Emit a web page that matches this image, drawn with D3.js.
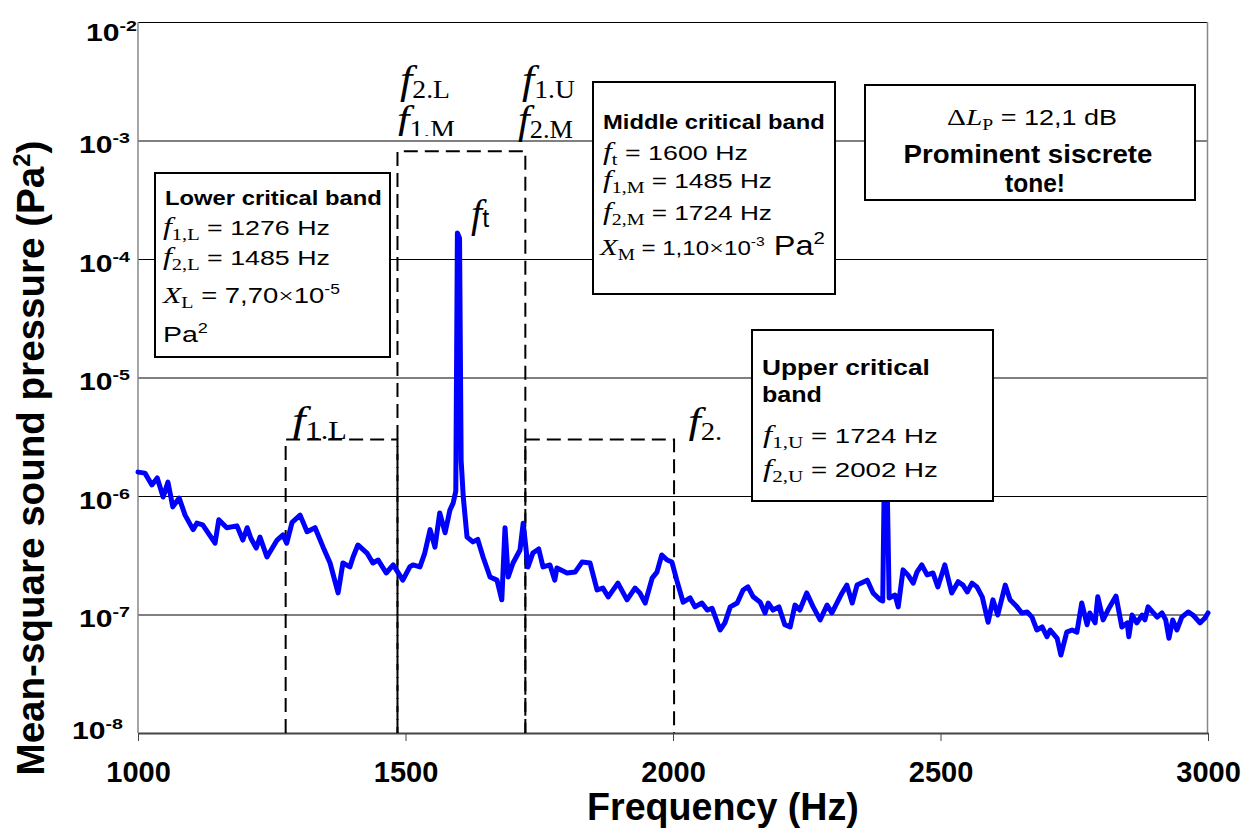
<!DOCTYPE html>
<html>
<head>
<meta charset="utf-8">
<script src="https://cdn.jsdelivr.net/npm/d3@7"></script>
<style>
  body { margin: 0; background: #fff; }
  svg { display: block; }
</style>
</head>
<body>
<svg id="chart" width="1245" height="828"></svg>
<script>
// spectrum (Hz / Pa^2)
const freq = [1000,1013,1026,1036,1047,1056,1065,1077,1088,1103,1110,1121,1144,1151,1166,1185,1196,1204,1211,1221,1228,1241,1260,1271,1278,1288,1303,1316,1331,1346,1359,1374,1383,1396,1402,1411,1428,1439,1449,1464,1477,1495,1508,1514,1527,1536,1546,1555,1564,1574,1583,1589,1594,1597,1601,1604,1608,1615,1626,1635,1645,1658,1671,1680,1686,1692,1701,1714,1720,1729,1738,1749,1757,1770,1779,1783,1802,1817,1830,1845,1858,1869,1879,1897,1914,1929,1938,1948,1961,1970,1979,1989,1998,2007,2019,2032,2041,2054,2064,2073,2088,2097,2107,2120,2131,2140,2150,2163,2172,2178,2187,2198,2209,2219,2228,2237,2250,2262,2275,2288,2297,2316,2325,2335,2344,2363,2374,2387,2392,2395,2400,2404,2415,2421,2430,2439,2449,2456,2465,2475,2486,2495,2508,2521,2533,2542,2550,2559,2568,2578,2589,2598,2607,2621,2630,2643,2652,2662,2671,2680,2690,2699,2705,2718,2725,2736,2746,2755,2764,2774,2779,2789,2794,2804,2813,2828,2839,2849,2852,2858,2867,2877,2882,2888,2905,2914,2921,2927,2934,2942,2951,2963,2972,2985,2994,3000];
const msp = [1.59e-6,1.56e-6,1.24e-6,1.42e-6,9.8e-7,1.31e-6,8.1e-7,9.6e-7,6.9e-7,5.2e-7,5.9e-7,5.7e-7,4.0e-7,6.3e-7,5.4e-7,5.6e-7,4.25e-7,5.4e-7,4.4e-7,3.64e-7,4.5e-7,3.06e-7,4.25e-7,4.7e-7,4.0e-7,6.0e-7,6.9e-7,5.0e-7,5.4e-7,3.7e-7,2.72e-7,1.52e-7,2.72e-7,2.52e-7,3.06e-7,3.86e-7,3.3e-7,2.72e-7,2.88e-7,2.24e-7,2.62e-7,1.95e-7,2.52e-7,2.62e-7,2.52e-7,3.3e-7,5.2e-7,3.7e-7,7.2e-7,4.9e-7,7.6e-7,8.7e-7,1.1e-6,1.66e-4,1.5e-4,2.0e-6,9.8e-7,4.5e-7,4.1e-7,4.3e-7,3.06e-7,2.07e-7,1.95e-7,1.33e-7,5.4e-7,2.07e-7,2.72e-7,3.5e-7,5.9e-7,2.52e-7,3.3e-7,3.57e-7,2.52e-7,2.62e-7,1.95e-7,2.47e-7,2.24e-7,2.28e-7,2.77e-7,2.72e-7,1.61e-7,1.67e-7,1.41e-7,1.84e-7,1.33e-7,1.67e-7,1.52e-7,1.25e-7,2.03e-7,2.28e-7,3.18e-7,2.88e-7,2.77e-7,1.95e-7,1.27e-7,1.38e-7,1.16e-7,1.25e-7,1.09e-7,1.13e-7,7.4e-8,8.5e-8,1.16e-7,1.25e-7,1.61e-7,1.71e-7,1.41e-7,1.27e-7,1.03e-7,1.25e-7,1.09e-7,1.16e-7,8.2e-8,7.85e-8,1.2e-7,1.09e-7,1.52e-7,1.16e-7,9.0e-8,1.2e-7,1.03e-7,1.52e-7,1.77e-7,1.25e-7,1.77e-7,1.95e-7,1.52e-7,1.33e-7,1.3e-7,1.5e-6,1.5e-6,1.38e-7,1.46e-7,1.16e-7,2.38e-7,2.16e-7,1.84e-7,2.28e-7,2.62e-7,2.16e-7,2.24e-7,1.71e-7,2.62e-7,1.52e-7,1.89e-7,1.77e-7,1.55e-7,1.84e-7,1.71e-7,1.41e-7,8.6e-8,1.33e-7,9.9e-8,1.77e-7,1.33e-7,1.16e-7,1.03e-7,1.05e-7,9.5e-8,7.4e-8,7.85e-8,6.5e-8,7.4e-8,6.3e-8,4.55e-8,7.1e-8,7.4e-8,7.1e-8,1.25e-7,8.2e-8,1.03e-7,8.5e-8,1.41e-7,9.0e-8,1.09e-7,1.43e-7,7.85e-8,8.5e-8,6.5e-8,9.9e-8,8.5e-8,9.9e-8,9.0e-8,1.16e-7,9.5e-8,1.03e-7,9.0e-8,6.3e-8,9.0e-8,7.4e-8,9.5e-8,1.05e-7,9.9e-8,8.5e-8,9.3e-8,1.03e-7];

const xTicks = [1000, 1500, 2000, 2500, 3000];
const yTicks = [1e-8, 1e-7, 1e-6, 1e-5, 1e-4, 1e-3, 1e-2];
const yExponents = ['-8', '-7', '-6', '-5', '-4', '-3', '-2'];

// critical band outlines (dashed): lower / middle / upper
const bandNames = ['L', 'M', 'U'];
const bandLow = [1276, 1485, 1724];
const bandHigh = [1485, 1724, 2002];
const bandTop = [3e-6, 8.1e-4, 3e-6];

const SANS = '"Liberation Sans", Arial, sans-serif';
const SERIF = '"Liberation Serif", "Times New Roman", serif';

const svg = d3.select('#chart');
const plotL = 138, plotR = 1208, plotT = 22, plotB = 733;

const x = d3.scaleLinear().domain([1000, 3000]).range([plotL, plotR]);
const y = d3.scaleLog().domain([1e-8, 1e-2]).range([plotB, plotT]);

// rich text helper: segments [text, style, size, baselineShift]
function rich(g, x0, y0, segs, width, anchor) {
  const t = g.append('text').attr('x', 0).attr('y', 0)
    .attr('fill', '#000').attr('text-anchor', 'start');
  let shift = 0;
  segs.forEach(([txt, st, size, dy = 0]) => {
    const sp = t.append('tspan').text(txt)
      .style('font-family', st === 'i' || st === 'r' ? SERIF : SANS)
      .style('font-size', size + 'px')
      .style('font-weight', st === 'b' ? 'bold' : 'normal')
      .style('font-style', st === 'i' ? 'italic' : 'normal');
    if (dy !== shift) { sp.attr('dy', dy - shift); shift = dy; }
  });
  const w = t.node().getComputedTextLength();
  const k = width ? width / w : 1;
  const tw = w * k;
  let xs = x0;
  if (anchor === 'middle') xs = x0 - tw / 2;
  if (anchor === 'end') xs = x0 - tw;
  t.attr('transform', `translate(${xs},${y0}) scale(${k},1)`);
  return t;
}

// gridlines + y labels
const yAxis = svg.append('g')
  .attr('transform', `translate(${plotL},0)`)
  .call(d3.axisLeft(y).tickValues(yTicks).tickSize(-(plotR - plotL)).tickSizeOuter(0).tickFormat(''));
yAxis.select('.domain').remove();
yAxis.selectAll('.tick text').remove();
yAxis.selectAll('.tick line').attr('stroke', '#000').attr('stroke-width', 1);

yAxis.selectAll('.tick').each(function (d, i) {
  const last = yTicks.length - 1;
  const xr = i === last ? -1 : (i === 0 ? -15 : -8);
  const yb = i === last ? 18 : (i === 0 ? 5 : 12);
  rich(d3.select(this), xr, yb, [['10', 'b', 23], [yExponents[i], 'b', 15, -10]], 51, 'end');
});

// frame lines
svg.append('line').attr('x1', plotL).attr('x2', plotL).attr('y1', plotT).attr('y2', plotB)
  .attr('stroke', '#888').attr('stroke-width', 1.5);
svg.append('line').attr('x1', plotR - 0.5).attr('x2', plotR - 0.5).attr('y1', plotT).attr('y2', plotB)
  .attr('stroke', '#888').attr('stroke-width', 1.5);

// x axis
const xAxis = svg.append('g')
  .attr('transform', `translate(0,${plotB})`)
  .call(d3.axisBottom(x).tickValues(xTicks).tickSize(8).tickSizeOuter(0).tickFormat(d3.format('d')));
xAxis.select('.domain').attr('stroke', '#444').attr('stroke-width', 2);
xAxis.selectAll('.tick line').attr('stroke', '#444');
xAxis.selectAll('.tick text')
  .attr('y', 49).attr('dy', 0)
  .attr('fill', '#000')
  .attr('font-family', SANS).attr('font-size', 29).attr('font-weight', 'bold');

// dashed band outlines
svg.append('g').selectAll('path')
  .data(bandNames)
  .join('path')
  .attr('d', (d, i) => `M${x(bandLow[i])},${plotB}V${y(bandTop[i])}H${x(bandHigh[i])}V${plotB}`)
  .attr('fill', 'none')
  .attr('stroke', '#000')
  .attr('stroke-width', 2)
  .attr('stroke-dasharray', '14,7');

// spectrum
const line = d3.line()
  .x(d => x(d[0]))
  .y(d => y(d[1]));
svg.append('path')
  .datum(freq.map((f, i) => [f, msp[i]]))
  .attr('d', line)
  .attr('fill', 'none')
  .attr('stroke', '#0000ff')
  .attr('stroke-width', 5)
  .attr('stroke-linejoin', 'round')
  .attr('stroke-linecap', 'round');

function box(x0, y0, x1, y1) {
  const g = svg.append('g');
  g.append('rect').attr('x', x0).attr('y', y0).attr('width', x1 - x0).attr('height', y1 - y0)
    .attr('fill', '#fff').attr('stroke', '#000').attr('stroke-width', 2);
  return g;
}

// lower band box
const b1 = box(155, 173, 390, 357);
rich(b1, 165, 205, [['Lower critical band', 'b', 21]], 217);
rich(b1, 163, 235, [['f', 'i', 25], ['1,L', 'r', 16, 5], [' = 1276 Hz', 's', 21]], 167);
rich(b1, 163, 265, [['f', 'i', 25], ['2,L', 'r', 16, 5], [' = 1485 Hz', 's', 21]], 167);
rich(b1, 163, 303, [['X', 'i', 24], ['L', 'r', 16, 5], [' = 7,70', 's', 22], ['\u00d7', 'r', 22], ['10', 's', 22], ['-5', 's', 14, -9]], 177);
rich(b1, 163, 342, [['Pa', 's', 22], ['2', 's', 14, -9]], 45);

// middle band box
const b2 = box(593, 82, 835, 294);
rich(b2, 603, 129, [['Middle critical band', 'b', 21]], 222);
rich(b2, 603, 160, [['f', 'i', 25], ['t', 'r', 16, 5], [' = 1600 Hz', 's', 21]], 145);
rich(b2, 603, 188, [['f', 'i', 25], ['1,M', 'r', 16, 5], [' = 1485 Hz', 's', 21]], 169);
rich(b2, 603, 220, [['f', 'i', 25], ['2,M', 'r', 16, 5], [' = 1724 Hz', 's', 21]], 169);
rich(b2, 600, 255, [['X', 'i', 24], ['M', 'r', 16, 5], [' = 1,10', 's', 20], ['\u00d7', 'r', 22], ['10', 's', 20], ['-3', 's', 13, -9], [' Pa', 's', 27, 0], ['2', 's', 17, -11]], 225);

// level difference box
const b3 = box(865, 85, 1195, 200);
rich(b3, 1032, 125, [['\u0394', 'r', 24], ['L', 'i', 24], ['P', 'r', 16, 5], [' = 12,1 dB', 's', 22, 0]], 170, 'middle');
rich(b3, 1028, 163, [['Prominent siscrete', 'b', 26]], 249, 'middle');
rich(b3, 1035, 192, [['tone!', 'b', 26]], 60, 'middle');

// upper band box
const b4 = box(752, 330, 993, 501);
rich(b4, 762, 375, [['Upper critical', 'b', 22]], 168);
rich(b4, 762, 402, [['band', 'b', 22]], 60);
rich(b4, 763, 443, [['f', 'i', 25], ['1,U', 'r', 16, 5], [' = 1724 Hz', 's', 21]], 175);
rich(b4, 763, 477, [['f', 'i', 25], ['2,U', 'r', 16, 5], [' = 2002 Hz', 's', 21]], 175);

// band edge labels
const defs = svg.append('defs');
function clip(id, x0, y0, x1, y1) {
  defs.append('clipPath').attr('id', id).append('rect')
    .attr('x', x0).attr('y', y0).attr('width', x1 - x0).attr('height', y1 - y0);
  return svg.append('g').attr('clip-path', `url(#${id})`);
}
const lab = svg.append('g');
rich(lab, 400, 93, [['f', 'i', 40], ['2.L', 'r', 25, 5]], 50);
rich(clip('c1m', 380, 95, 470, 136), 397, 133, [['f', 'i', 40], ['1.M', 'r', 25, 5]], 58);
rich(lab, 522, 93, [['f', 'i', 40], ['1.U', 'r', 25, 5]], 53);
rich(lab, 518, 133, [['f', 'i', 40], ['2.M', 'r', 25, 5]], 55);
rich(lab, 471, 227, [['f', 'i', 40], ['t', 's', 25]]);
rich(clip('c1l', 280, 395, 400, 439), 292, 434, [['f', 'i', 40], ['1.L', 'r', 25, 5]], 55);
rich(clip('c2u', 680, 395, 721, 441), 688, 435, [['f', 'i', 40], ['2.U', 'r', 25, 5]], 55);

// axis titles
rich(svg.append('g'), 723, 820, [['Frequency (Hz)', 'b', 38]], 272, 'middle');
const yt = svg.append('g').attr('transform', 'translate(44,458) rotate(-90)');
rich(yt, 0, 0, [['Mean-square sound pressure (Pa', 'b', 39], ['2', 'b', 24, -14], [')', 'b', 39, 0]], 635, 'middle');
</script>
</body>
</html>
